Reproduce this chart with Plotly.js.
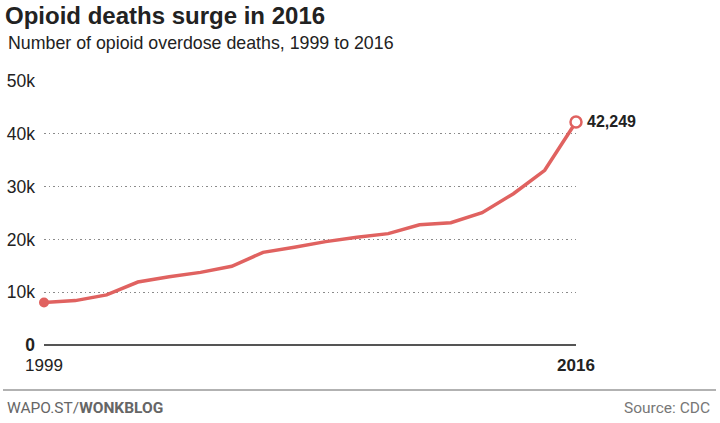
<!DOCTYPE html>
<html><head><meta charset="utf-8">
<script src="https://cdn.plot.ly/plotly-3.0.1.min.js"></script>
<style>html,body{margin:0;padding:0;background:#fff}#chart{width:720px;height:423px}</style>
</head><body><div id="chart"></div>
<script>
const years = [1999,2000,2001,2002,2003,2004,2005,2006,2007,2008,2009,2010,2011,2012,2013,2014,2015,2016];
const deaths = [8050,8407,9496,11920,12940,13756,14918,17545,18516,19582,20422,21089,22784,23166,25052,28647,33091,42249];
const yTickVals = [0,10000,20000,30000,40000,50000];
const yTickText = ['<b>0</b>','10k','20k','30k','40k','50k'];
const xTickVals = [1999,2016];
const xTickText = ['1999','<b>2016</b>'];
const titleText = 'Opioid deaths surge in 2016';
const subtitleText = 'Number of opioid overdose deaths, 1999 to 2016';
const endLabel = '42,249';

const L=44, R=576, T=81, B=345, W=720, H=423;
const fx = p => (p-L)/(R-L);
const fy = p => (B-p)/(B-T);
const red = 'rgb(224,98,96)';
const last = years.length-1;

const traces = [
  {x: years, y: deaths, mode:'lines', line:{color:red, width:3.5}, hoverinfo:'skip', cliponaxis:false},
  {x:[years[0]], y:[deaths[0]], mode:'markers', marker:{color:red, size:10}, hoverinfo:'skip', cliponaxis:false},
  {x:[years[last]], y:[deaths[last]], mode:'markers', marker:{color:'#fff', size:11, line:{color:red, width:2.5}}, hoverinfo:'skip', cliponaxis:false}
];

const layout = {
  width:W, height:H, showlegend:false,
  paper_bgcolor:'#fff', plot_bgcolor:'#fff',
  margin:{l:L, r:W-R, t:T, b:H-B, pad:0},
  font:{family:'Liberation Sans, Arial, sans-serif', color:'#222'},
  xaxis:{range:[1999,2016], tickvals:xTickVals, ticktext:xTickText, showgrid:false, zeroline:false,
    showline:false, ticks:'', ticklabelstandoff:8, tickfont:{size:17, color:'#222'}, fixedrange:true},
  yaxis:{range:[0,50000], tickvals:yTickVals, ticktext:yTickText, showgrid:true, gridcolor:'#8a8a8a',
    griddash:'1.5px,3px', gridwidth:1, zeroline:true, zerolinecolor:'#555', zerolinewidth:1.3,
    showline:false, ticks:'', ticklabelstandoff:8, tickfont:{size:17.5, color:'#222'}, fixedrange:true},
  annotations:[
    {text:'<b>'+titleText+'</b>', xref:'paper', yref:'paper', x:fx(3), y:fy(15), xanchor:'left', yanchor:'middle',
     showarrow:false, font:{size:24, color:'#222', family:'Liberation Sans, Arial'}},
    {text:subtitleText, xref:'paper', yref:'paper', x:fx(6), y:fy(43), xanchor:'left', yanchor:'middle',
     showarrow:false, font:{size:17.8, color:'#222'}},
    {text:'<b>'+endLabel+'</b>', x:years[last], y:deaths[last], xref:'x', yref:'y', xanchor:'left', yanchor:'middle',
     xshift:9, showarrow:false, font:{size:16, color:'#222'}},
    {text:'WAPO.ST/<b>WONKBLOG</b>', xref:'paper', yref:'paper', x:fx(5), y:fy(408), xanchor:'left', yanchor:'middle',
     showarrow:false, font:{size:15.5, color:'#666', family:'Liberation Sans Narrow, Roboto, Arial'}},
    {text:'Source: CDC', xref:'paper', yref:'paper', x:fx(712), y:fy(408), xanchor:'right', yanchor:'middle',
     showarrow:false, font:{size:15.5, color:'#777', family:'Liberation Sans Narrow, Roboto, Arial'}}
  ],
  shapes:[
    {type:'line', xref:'paper', yref:'paper', x0:fx(3), x1:fx(716), y0:fy(390), y1:fy(390), line:{color:'#999', width:1.5}}
  ]
};
Plotly.newPlot('chart', traces, layout, {displayModeBar:false, staticPlot:true});
</script></body></html>
